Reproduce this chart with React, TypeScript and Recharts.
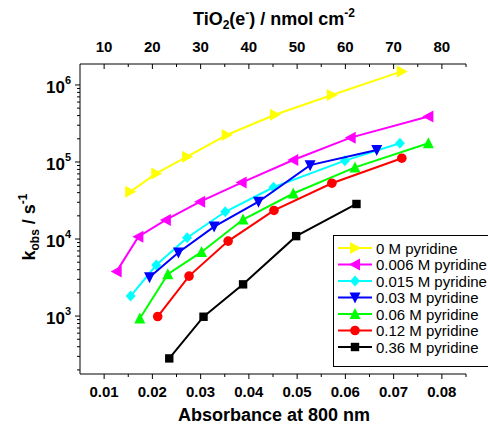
import React from 'react';
import { ComposedChart, Scatter, XAxis, YAxis, Legend } from 'recharts';

const FONT = '"Liberation Sans", Arial, Helvetica, sans-serif';

// absorbance at 800 nm (x) and k_obs / s^-1 (y), one pair of arrays per pyridine concentration
const abs0 = [0.0154, 0.0208, 0.0272, 0.0354, 0.0454, 0.0572, 0.0717];
const kobs0 = [4.1e4, 7.1e4, 1.17e5, 2.24e5, 4.1e5, 7.4e5, 1.5e6];
const abs006 = [0.0126, 0.0171, 0.0228, 0.0299, 0.0385, 0.0492, 0.0611, 0.0772];
const kobs006 = [3.8e3, 1.07e4, 1.77e4, 3.05e4, 5.4e4, 1.06e5, 2.07e5, 3.9e5];
const abs015 = [0.0155, 0.0208, 0.0272, 0.0351, 0.0451, 0.0599, 0.0713];
const kobs015 = [1.82e3, 4.6e3, 1.04e4, 2.26e4, 4.7e4, 1.04e5, 1.75e5];
const abs03 = [0.0194, 0.0254, 0.0328, 0.042, 0.0527, 0.0665];
const kobs03 = [3.2e3, 6.7e3, 1.45e4, 3.05e4, 9.1e4, 1.43e5];
const abs06 = [0.0174, 0.0232, 0.0302, 0.0388, 0.0492, 0.062, 0.0772];
const kobs06 = [930, 3.5e3, 6.8e3, 1.79e4, 3.9e4, 8.5e4, 1.75e5];
const abs12 = [0.0211, 0.0276, 0.0357, 0.0452, 0.0572, 0.0717];
const kobs12 = [985, 3.3e3, 9.4e3, 2.35e4, 5.3e4, 1.12e5];
const abs36 = [0.0235, 0.0306, 0.0388, 0.0498, 0.0623];
const kobs36 = [282, 980, 2.58e3, 1.09e4, 2.85e4];

const seriesNames = [
  '0 M pyridine',
  '0.006 M pyridine',
  '0.015 M pyridine',
  '0.03 M pyridine',
  '0.06 M pyridine',
  '0.12 M pyridine',
  '0.36 M pyridine',
];
const seriesColors = ['#ffff00', '#ff00ff', '#00ffff', '#0000ff', '#00ff00', '#ff0000', '#000000'];
const seriesShapes = ['right', 'left', 'diamond', 'down', 'up', 'circle', 'square'];
const seriesX = [abs0, abs006, abs015, abs03, abs06, abs12, abs36];
const seriesY = [kobs0, kobs006, kobs015, kobs03, kobs06, kobs12, kobs36];

// tick labels
const absTicks = [0.01, 0.02, 0.03, 0.04, 0.05, 0.06, 0.07, 0.08];
const absMinorTicks = [0.015, 0.025, 0.035, 0.045, 0.055, 0.065, 0.075, 0.085];
const tioTicks = [10, 20, 30, 40, 50, 60, 70, 80];
const tioMinorTicks = [15, 25, 35, 45, 55, 65, 75, 85];
const kobsDecades = [3, 4, 5, 6];
const kobsMinorMantissa = [2, 3, 4, 5, 6, 7, 8, 9];

const Y_DOMAIN = [177, 1.87e6];

const yTicks: number[] = [];
[2, 3, 4, 5, 6].forEach((d) => {
  if (d >= 3) yTicks.push(Math.pow(10, d));
  kobsMinorMantissa.forEach((m) => {
    const v = m * Math.pow(10, d);
    if (v >= Y_DOMAIN[0] && v <= Y_DOMAIN[1]) yTicks.push(v);
  });
});
yTicks.sort((a, b) => a - b);

const series = seriesNames.map((name, i) => ({
  name,
  color: seriesColors[i],
  shape: seriesShapes[i],
  data: seriesX[i].map((x, j) => ({ x, y: seriesY[i][j] })),
}));

// the top axis only needs something bound to it so recharts draws it
const topAxisAnchor = [tioTicks[0], tioTicks[tioTicks.length - 1]].map((t) => ({ x: t, y: 1e4 }));

const Marker = ({ cx, cy, shape, color }: any) => {
  if (cx == null || cy == null) return null;
  switch (shape) {
    case 'right':
      return <polygon points={`${cx - 5},${cy - 6} ${cx + 6},${cy} ${cx - 5},${cy + 6}`} fill={color} />;
    case 'left':
      return <polygon points={`${cx + 5},${cy - 6} ${cx - 6},${cy} ${cx + 5},${cy + 6}`} fill={color} />;
    case 'down':
      return <polygon points={`${cx - 5.5},${cy - 5} ${cx + 5.5},${cy - 5} ${cx},${cy + 6}`} fill={color} />;
    case 'up':
      return <polygon points={`${cx},${cy - 6} ${cx + 5.5},${cy + 5} ${cx - 5.5},${cy + 5}`} fill={color} />;
    case 'diamond':
      return <polygon points={`${cx},${cy - 5.5} ${cx + 5},${cy} ${cx},${cy + 5.5} ${cx - 5},${cy}`} fill={color} />;
    case 'circle':
      return <circle cx={cx} cy={cy} r={4.8} fill={color} />;
    default:
      return <rect x={cx - 4.2} y={cy - 4.2} width={8.4} height={8.4} fill={color} />;
  }
};

const BottomTick = ({ x, y, payload }: any) => {
  const major = absTicks.includes(payload.value);
  return (
    <g>
      <line x1={x} y1={y} x2={x} y2={y + (major ? 5 : 3)} stroke="#000" />
      {major && (
        <text x={x} y={y + 23} textAnchor="middle" fontSize={15} fontWeight="bold" fontFamily={FONT} fill="#000">
          {payload.value.toFixed(2)}
        </text>
      )}
    </g>
  );
};

const TopTick = ({ x, y, payload }: any) => {
  const major = tioTicks.includes(payload.value);
  return (
    <g>
      <line x1={x} y1={y} x2={x} y2={y + (major ? 5 : 3)} stroke="#000" />
      {major && (
        <text x={x} y={y - 12} textAnchor="middle" fontSize={15} fontWeight="bold" fontFamily={FONT} fill="#000">
          {payload.value}
        </text>
      )}
    </g>
  );
};

const LeftTick = ({ x, y, payload }: any) => {
  const exp = Math.log10(payload.value);
  const major = Math.abs(exp - Math.round(exp)) < 1e-9 && kobsDecades.includes(Math.round(exp));
  return (
    <g>
      <line x1={x - (major ? 5 : 3)} y1={y} x2={x} y2={y} stroke="#000" />
      {major && (
        <text x={x - 9} y={y + 8} textAnchor="end" fontSize={17} fontWeight="bold" fontFamily={FONT} fill="#000">
          10
          <tspan fontSize={11} dy={-9}>{Math.round(exp)}</tspan>
        </text>
      )}
    </g>
  );
};

const BottomTitle = () => (
  <text x={274} y={421} textAnchor="middle" fontSize={18} fontWeight="bold" fontFamily={FONT} fill="#000">
    Absorbance at 800 nm
  </text>
);

const TopTitle = () => (
  <text x={274} y={25} textAnchor="middle" fontSize={18} fontWeight="bold" fontFamily={FONT} fill="#000">
    TiO
    <tspan fontSize={12} dy={4}>2</tspan>
    <tspan dy={-4}>(e</tspan>
    <tspan fontSize={12} dy={-8}>-</tspan>
    <tspan dy={8}>) / nmol cm</tspan>
    <tspan fontSize={12} dy={-8}>-2</tspan>
  </text>
);

const LeftTitle = () => (
  <text
    x={35}
    y={227}
    transform="rotate(-90, 35, 227)"
    textAnchor="middle"
    fontSize={18}
    fontWeight="bold"
    fontFamily={FONT}
    fill="#000"
  >
    k
    <tspan fontSize={12} dy={4}>obs</tspan>
    <tspan dy={-4}> / s</tspan>
    <tspan fontSize={12} dy={-8}>-1</tspan>
  </text>
);

const LegendBox = () => (
  <svg width={156} height={133} style={{ display: 'block' }}>
    <rect x={0.5} y={0.5} width={160} height={131} fill="#fff" stroke="#000" />
    {series.map((s, i) => {
      const cy = 13 + i * 16.5;
      return (
        <g key={s.name}>
          <line x1={5} y1={cy} x2={39} y2={cy} stroke={s.color} strokeWidth={2} />
          <Marker cx={22} cy={cy} shape={s.shape} color={s.color} />
          <text x={43} y={cy + 5.5} fontSize={15} fontFamily={FONT} fill="#000">
            {s.name}
          </text>
        </g>
      );
    })}
  </svg>
);

export default function App() {
  return (
    <div style={{ width: 488, height: 429, background: '#fff', overflow: 'hidden' }}>
      <style>{'body{margin:0}'}</style>
      <ComposedChart width={488} height={429} margin={{ top: 0, right: 22, bottom: 0, left: 0 }}>
        <XAxis
          dataKey="x"
          type="number"
          domain={[0.005, 0.085]}
          allowDataOverflow
          ticks={[...absTicks, ...absMinorTicks].sort((a, b) => a - b)}
          interval={0}
          tick={BottomTick}
          tickLine={false}
          tickSize={0}
          tickMargin={0}
          height={55}
          axisLine={{ stroke: '#000' }}
          label={BottomTitle}
        />
        <XAxis
          xAxisId="top"
          orientation="top"
          dataKey="x"
          type="number"
          domain={[5, 85]}
          allowDataOverflow
          ticks={[...tioTicks, ...tioMinorTicks].sort((a, b) => a - b)}
          interval={0}
          tick={TopTick}
          tickLine={false}
          tickSize={0}
          tickMargin={0}
          height={64}
          axisLine={{ stroke: '#000' }}
          label={TopTitle}
        />
        <YAxis
          dataKey="y"
          type="number"
          scale="log"
          domain={Y_DOMAIN}
          allowDataOverflow
          ticks={yTicks}
          interval={0}
          tick={LeftTick}
          tickLine={false}
          tickSize={0}
          tickMargin={0}
          width={80}
          axisLine={{ stroke: '#000' }}
          label={LeftTitle}
        />
        <Scatter
          xAxisId="top"
          data={topAxisAnchor}
          shape={() => null}
          legendType="none"
          isAnimationActive={false}
        />
        {series.map((s) => (
          <Scatter
            key={s.name}
            name={s.name}
            data={s.data}
            fill={s.color}
            line={{ stroke: s.color, strokeWidth: 2 }}
            shape={(p: any) => <Marker cx={p.cx} cy={p.cy} shape={s.shape} color={s.color} />}
            isAnimationActive={false}
          />
        ))}
        <Legend
          layout="horizontal"
          verticalAlign="middle"
          align="center"
          wrapperStyle={{ left: 333, top: 235, width: 156, height: 133 }}
          content={LegendBox}
        />
      </ComposedChart>
    </div>
  );
}
